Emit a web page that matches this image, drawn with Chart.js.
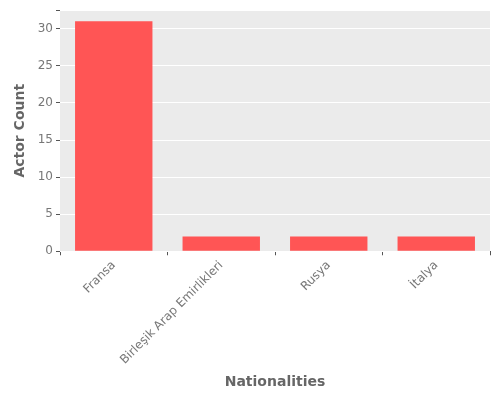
<!DOCTYPE html>
<html><head><script src="https://cdn.jsdelivr.net/npm/chart.js@4"></script>
<style>body{margin:0}#w{width:500px;height:400px}</style></head>
<body><div id="w"><canvas id="c"></canvas></div>
<script>
const categories=["Fransa","Birleşik Arap Emirlikleri","Rusya","İtalya"];
const counts=[31,2,2,2];
const bg={id:'bg',beforeDraw(ch){const a=ch.chartArea,x=ch.ctx;x.save();x.fillStyle='#EBEBEB';x.fillRect(a.left,a.top,a.right-a.left,a.bottom-a.top);x.restore();}};
Chart.defaults.font.family='DejaVu Sans';
new Chart(document.getElementById('c'),{type:'bar',
data:{labels:categories,datasets:[{data:counts,backgroundColor:'#FF5555',categoryPercentage:1,barPercentage:0.72}]},
options:{responsive:true,maintainAspectRatio:false,animation:false,
layout:{padding:{top:10,right:10,left:8,bottom:5}},
plugins:{legend:{display:false},tooltip:{enabled:false}},
scales:{
x:{grid:{color:'#555',drawOnChartArea:false,drawTicks:true,tickLength:4},border:{display:false},
ticks:{color:'#777',font:{size:12},maxRotation:45,minRotation:45},
title:{display:true,text:'Nationalities',color:'#666',font:{size:14,weight:'bold'}}},
y:{min:0,max:32.5,afterFit(s){s.width=52;},grid:{color:'#fff',tickColor:'#555',tickLength:4},border:{display:false},
ticks:{stepSize:5,color:'#777',font:{size:12},callback:v=>v%5===0?v:''},
title:{display:true,text:'Actor Count',color:'#666',font:{size:14,weight:'bold'}}}}},
plugins:[bg]});
</script></body></html>
